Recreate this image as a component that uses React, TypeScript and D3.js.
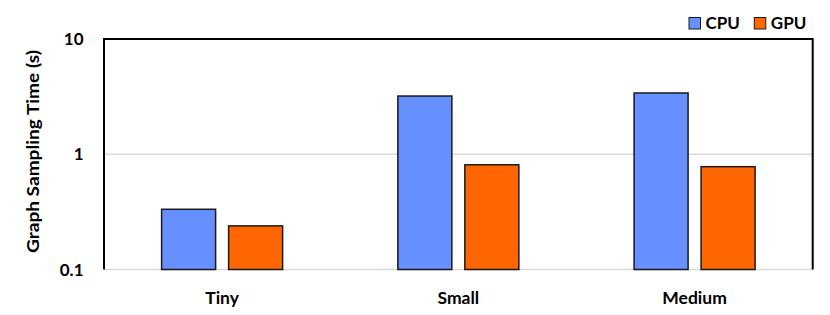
import React, { useEffect, useRef } from "react";
import * as d3 from "d3";

const categories = ["Tiny", "Small", "Medium"];
const seriesNames = ["CPU", "GPU"];
const cpuValues = [0.333, 3.2, 3.4];
const gpuValues = [0.239, 0.81, 0.78];
const yTicks = [0.1, 1, 10];
const seriesColors = ["#6690FF", "#FF6600"];

const App = () => {
  const ref = useRef<SVGSVGElement>(null);

  useEffect(() => {
    const w = 830,
      h = 315;
    const left = 104,
      right = 812.7,
      top = 39,
      bottom = 269.5;
    const font = "Lato, 'Open Sans', sans-serif";

    const svg = d3.select(ref.current);
    svg.selectAll("*").remove();
    svg.attr("width", w).attr("height", h);

    const y = d3.scaleLog().domain([0.1, 10]).range([bottom, top]);
    const x0 = d3.scaleBand().domain(categories).range([left, right]).padding(0);
    const x1 = d3
      .scaleBand()
      .domain(seriesNames)
      .range([0, 121])
      .paddingInner(13 / 67)
      .paddingOuter(0);

    // grid lines
    svg
      .append("g")
      .selectAll("line")
      .data(yTicks)
      .enter()
      .append("line")
      .attr("x1", left)
      .attr("x2", right)
      .attr("y1", (d) => y(d))
      .attr("y2", (d) => y(d))
      .attr("stroke", "#d9d9d9")
      .attr("stroke-width", 1.5);

    const data = categories.map((c, i) => ({
      cat: c,
      vals: [cpuValues[i], gpuValues[i]],
    }));

    const groups = svg
      .append("g")
      .selectAll("g")
      .data(data)
      .enter()
      .append("g")
      .attr("transform", (d) => `translate(${x0(d.cat)! + x0.bandwidth() / 2 - 60.5},0)`);

    groups
      .selectAll("rect")
      .data((d) => d.vals.map((v, i) => ({ key: seriesNames[i], v, i })))
      .enter()
      .append("rect")
      .attr("x", (d) => x1(d.key)!)
      .attr("width", x1.bandwidth())
      .attr("y", (d) => y(d.v))
      .attr("height", (d) => bottom - y(d.v))
      .attr("fill", (d) => seriesColors[d.i])
      .attr("stroke", "#1a1a1a")
      .attr("stroke-width", 1.5);

    // plot frame (left, top, right)
    svg
      .append("path")
      .attr("d", `M${left},${bottom}V${top}H${right}V${bottom}`)
      .attr("fill", "none")
      .attr("stroke", "#000")
      .attr("stroke-width", 2);

    // y tick labels
    svg
      .append("g")
      .selectAll("text")
      .data(yTicks)
      .enter()
      .append("text")
      .attr("x", 83.5)
      .attr("y", (d) => y(d) + 6)
      .attr("text-anchor", "end")
      .style("font-family", font)
      .style("font-weight", 700)
      .style("font-size", "17px")
      .text((d) => String(d));

    // category labels
    svg
      .append("g")
      .selectAll("text")
      .data(categories)
      .enter()
      .append("text")
      .attr("x", (d) => x0(d)! + x0.bandwidth() / 2)
      .attr("y", 303.5)
      .attr("text-anchor", "middle")
      .style("font-family", font)
      .style("font-weight", 700)
      .style("font-size", "17.5px")
      .text((d) => d);

    // y axis title
    svg
      .append("text")
      .attr("transform", `translate(39,151.5) rotate(-90)`)
      .attr("text-anchor", "middle")
      .attr("textLength", 203)
      .attr("lengthAdjust", "spacingAndGlyphs")
      .style("font-family", font)
      .style("font-weight", 700)
      .style("font-size", "17.5px")
      .text("Graph Sampling Time (s)");

    // legend
    const legendX = [689, 754.3];
    const leg = svg
      .append("g")
      .selectAll("g")
      .data(seriesNames)
      .enter()
      .append("g")
      .attr("transform", (d, i) => `translate(${legendX[i]},17.5)`);
    leg
      .append("rect")
      .attr("width", 11.5)
      .attr("height", 11.5)
      .attr("fill", (d, i) => seriesColors[i])
      .attr("stroke", "#1a1a1a")
      .attr("stroke-width", 1);
    leg
      .append("text")
      .attr("x", 16.5)
      .attr("y", 11)
      .style("font-family", font)
      .style("font-weight", 700)
      .style("font-size", "17px")
      .text((d) => d);
  }, []);

  return (
    <div style={{ position: "absolute", left: 0, top: 0 }}>
      <svg ref={ref} style={{ display: "block" }} />
    </div>
  );
};

export default App;
